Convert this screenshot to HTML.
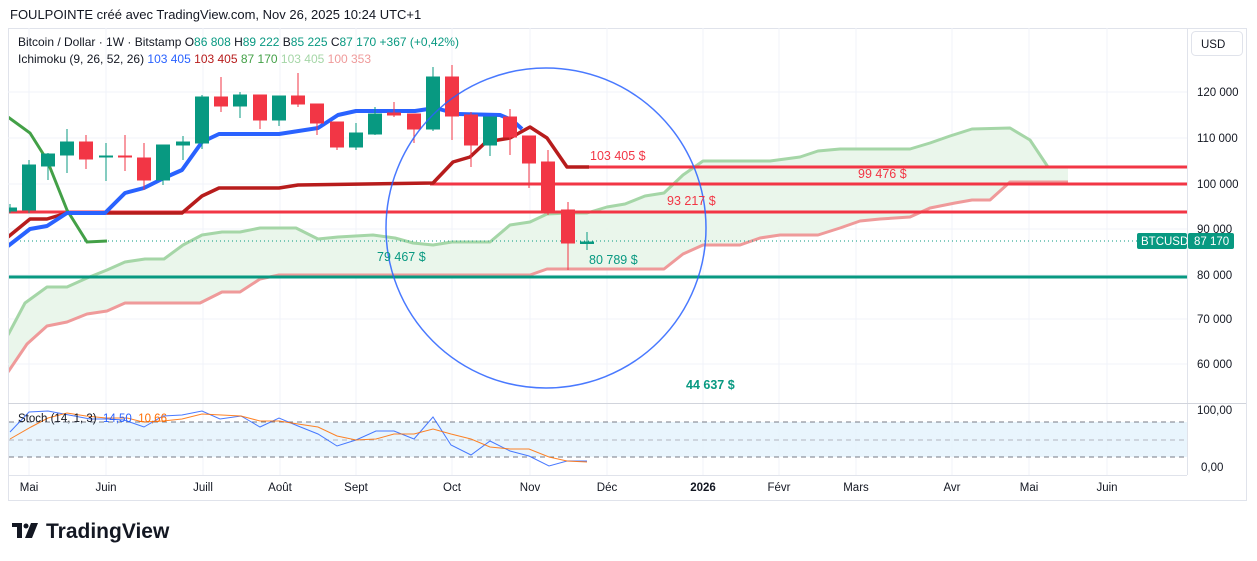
<!DOCTYPE html>
<html><head><meta charset="utf-8"><style>
html,body{margin:0;padding:0;background:#fff;width:1257px;height:561px;overflow:hidden}
svg{display:block;font-family:"Liberation Sans",sans-serif}
</style></head><body>
<svg width="1257" height="561" viewBox="0 0 1257 561" xmlns="http://www.w3.org/2000/svg">
<text x="10" y="19" font-size="13" fill="#131722">FOULPOINTE créé avec TradingView.com, Nov 26, 2025 10:24 UTC+1</text>
<rect x="8.5" y="28.5" width="1238" height="472" fill="#fff" stroke="#e0e3eb"/>
<g stroke="#f0f3fa" stroke-width="1">
<line x1="8" y1="92" x2="1187" y2="92"/><line x1="8" y1="138" x2="1187" y2="138"/><line x1="8" y1="184" x2="1187" y2="184"/><line x1="8" y1="229" x2="1187" y2="229"/><line x1="8" y1="275" x2="1187" y2="275"/><line x1="8" y1="319" x2="1187" y2="319"/><line x1="8" y1="364" x2="1187" y2="364"/>
<line x1="29" y1="28" x2="29" y2="475"/><line x1="106" y1="28" x2="106" y2="475"/><line x1="203" y1="28" x2="203" y2="475"/><line x1="280" y1="28" x2="280" y2="475"/><line x1="356" y1="28" x2="356" y2="475"/><line x1="452" y1="28" x2="452" y2="475"/><line x1="530" y1="28" x2="530" y2="475"/><line x1="607" y1="28" x2="607" y2="475"/><line x1="703" y1="28" x2="703" y2="475"/><line x1="779" y1="28" x2="779" y2="475"/><line x1="856" y1="28" x2="856" y2="475"/><line x1="952" y1="28" x2="952" y2="475"/><line x1="1029" y1="28" x2="1029" y2="475"/><line x1="1107" y1="28" x2="1107" y2="475"/>
</g>
<line x1="1187.5" y1="28" x2="1187.5" y2="475" stroke="#e0e3eb"/>
<line x1="8" y1="403.5" x2="1246" y2="403.5" stroke="#d1d4dc"/>
<line x1="8" y1="475.5" x2="1187" y2="475.5" stroke="#e0e3eb"/>
<defs><clipPath id="c"><rect x="9" y="29" width="1178" height="374"/></clipPath></defs>
<g clip-path="url(#c)">
<polygon fill="#e8f5e9" opacity="0.9" points="8,335 25,303 47,287 67,287 87,278 107,270 125,262 145,259 164,259 183,245 202,235 222,232 240,232 260,228 296,228 318,239 338,237 373,235 395,238 413,243 433,245 452,242 490,242 510,225 530,222 547,214 568,213 587,213 607,207 625,204 645,196 664,193 683,175 703,161 770,161 800,157 818,151 840,149 910,149 930,143 950,136 972,129 1010,128 1030,140 1048,167 1068,167 1068,182 1010,182 990,200 972,200 955,203 930,208 910,217 880,219 860,221 840,228 818,235 780,235 760,238 740,245 703,245 683,254 664,269 547,269 530,275 279,275 260,279 240,292 222,292 200,303 125,303 107,311 87,314 67,322 47,326 27,344 8,372"/>
<polyline fill="none" stroke="#a5d6a7" stroke-width="3" stroke-linejoin="round" points="8,335 25,303 47,287 67,287 87,278 107,270 125,262 145,259 164,259 183,245 202,235 222,232 240,232 260,228 296,228 318,239 338,237 373,235 395,238 413,243 433,245 452,242 490,242 510,225 530,222 547,214 568,213 587,213 607,207 625,204 645,196 664,193 683,175 703,161 770,161 800,157 818,151 840,149 910,149 930,143 950,136 972,129 1010,128 1030,140 1048,167 1068,167"/>
<polyline fill="none" stroke="#ef9a9a" stroke-width="3" stroke-linejoin="round" points="8,372 27,344 47,326 67,322 87,314 107,311 125,303 200,303 222,292 240,292 260,279 279,275 530,275 547,269 664,269 683,254 703,245 740,245 760,238 780,235 818,235 840,228 860,221 880,219 910,217 930,208 955,203 972,200 990,200 1010,182 1068,182"/>
<line x1="8" y1="277" x2="1187" y2="277" stroke="#089981" stroke-width="3"/>
<line x1="8" y1="212" x2="1187" y2="212" stroke="#f23645" stroke-width="3"/>
<line x1="430" y1="184" x2="1187" y2="184" stroke="#f23645" stroke-width="3"/>
<line x1="587" y1="167" x2="1187" y2="167" stroke="#f23645" stroke-width="3"/>
<line x1="8" y1="241" x2="1187" y2="241" stroke="#089981" stroke-dasharray="1,3"/>
<polyline fill="none" stroke="#43a047" stroke-width="3" points="8,117 30,133 47,160 67,210 87,242 107,241"/>
<polyline fill="none" stroke="#b71c1c" stroke-width="3.5" stroke-linejoin="round" points="8,237 30,219 47,219 67,213 182,213 202,196 219,188 279,188 298,185 433,183 453,162 470,157 486,142 510,138 530,127 547,138 567,167 589,167"/>
<polyline fill="none" stroke="#2962ff" stroke-width="4" stroke-linejoin="round" points="8,246 30,229 47,226 67,213 105,213 125,193 144,188 164,178 182,170 202,142 219,134 279,134 318,128 338,115 356,111 415,111 435,108 458,114 500,115 512,120 522,129"/>
<g stroke-width="1">
<g stroke="#089981" fill="#089981"><line x1="10" y1="204" x2="10" y2="213"/><rect x="3.5" y="208" width="13" height="3"/></g>
<g stroke="#089981" fill="#089981"><line x1="29" y1="160" x2="29" y2="213"/><rect x="22.5" y="165" width="13" height="45"/></g>
<g stroke="#089981" fill="#089981"><line x1="48" y1="153" x2="48" y2="180"/><rect x="41.5" y="154" width="13" height="12"/></g>
<g stroke="#089981" fill="#089981"><line x1="67" y1="129" x2="67" y2="173"/><rect x="60.5" y="142" width="13" height="13"/></g>
<g stroke="#f23645" fill="#f23645"><line x1="86" y1="135" x2="86" y2="169"/><rect x="79.5" y="142" width="13" height="17"/></g>
<g stroke="#089981" fill="#089981"><line x1="106" y1="143" x2="106" y2="181"/><rect x="99.5" y="156" width="13" height="1"/></g>
<g stroke="#f23645" fill="#f23645"><line x1="125" y1="135" x2="125" y2="171"/><rect x="118.5" y="156" width="13" height="1"/></g>
<g stroke="#f23645" fill="#f23645"><line x1="144" y1="143" x2="144" y2="190"/><rect x="137.5" y="158" width="13" height="22"/></g>
<g stroke="#089981" fill="#089981"><line x1="163" y1="145" x2="163" y2="185"/><rect x="156.5" y="145" width="13" height="35"/></g>
<g stroke="#089981" fill="#089981"><line x1="183" y1="136" x2="183" y2="160"/><rect x="176.5" y="142" width="13" height="3"/></g>
<g stroke="#089981" fill="#089981"><line x1="202" y1="95" x2="202" y2="149"/><rect x="195.5" y="97" width="13" height="46"/></g>
<g stroke="#f23645" fill="#f23645"><line x1="221" y1="77" x2="221" y2="112"/><rect x="214.5" y="97" width="13" height="9"/></g>
<g stroke="#089981" fill="#089981"><line x1="240" y1="92" x2="240" y2="118"/><rect x="233.5" y="95" width="13" height="11"/></g>
<g stroke="#f23645" fill="#f23645"><line x1="260" y1="95" x2="260" y2="129"/><rect x="253.5" y="95" width="13" height="25"/></g>
<g stroke="#089981" fill="#089981"><line x1="279" y1="96" x2="279" y2="126"/><rect x="272.5" y="96" width="13" height="24"/></g>
<g stroke="#f23645" fill="#f23645"><line x1="298" y1="73" x2="298" y2="107"/><rect x="291.5" y="96" width="13" height="8"/></g>
<g stroke="#f23645" fill="#f23645"><line x1="317" y1="104" x2="317" y2="135"/><rect x="310.5" y="104" width="13" height="19"/></g>
<g stroke="#f23645" fill="#f23645"><line x1="337" y1="122" x2="337" y2="150"/><rect x="330.5" y="122" width="13" height="25"/></g>
<g stroke="#089981" fill="#089981"><line x1="356" y1="123" x2="356" y2="150"/><rect x="349.5" y="133" width="13" height="14"/></g>
<g stroke="#089981" fill="#089981"><line x1="375" y1="107" x2="375" y2="135"/><rect x="368.5" y="114" width="13" height="20"/></g>
<g stroke="#f23645" fill="#f23645"><line x1="394" y1="102" x2="394" y2="117"/><rect x="387.5" y="113" width="13" height="2"/></g>
<g stroke="#f23645" fill="#f23645"><line x1="414" y1="114" x2="414" y2="143"/><rect x="407.5" y="114" width="13" height="15"/></g>
<g stroke="#089981" fill="#089981"><line x1="433" y1="67" x2="433" y2="131"/><rect x="426.5" y="77" width="13" height="52"/></g>
<g stroke="#f23645" fill="#f23645"><line x1="452" y1="65" x2="452" y2="140"/><rect x="445.5" y="77" width="13" height="39"/></g>
<g stroke="#f23645" fill="#f23645"><line x1="471" y1="112" x2="471" y2="167"/><rect x="464.5" y="115" width="13" height="30"/></g>
<g stroke="#089981" fill="#089981"><line x1="490" y1="117" x2="490" y2="156"/><rect x="483.5" y="117" width="13" height="28"/></g>
<g stroke="#f23645" fill="#f23645"><line x1="510" y1="109" x2="510" y2="155"/><rect x="503.5" y="117" width="13" height="20"/></g>
<g stroke="#f23645" fill="#f23645"><line x1="529" y1="136" x2="529" y2="188"/><rect x="522.5" y="136" width="13" height="27"/></g>
<g stroke="#f23645" fill="#f23645"><line x1="548" y1="150" x2="548" y2="215"/><rect x="541.5" y="162" width="13" height="51"/></g>
<g stroke="#f23645" fill="#f23645"><line x1="568" y1="202" x2="568" y2="270"/><rect x="561.5" y="210" width="13" height="33"/></g>
<g stroke="#089981" fill="#089981"><line x1="587" y1="232" x2="587" y2="250"/><rect x="580.5" y="242" width="13" height="1.5"/></g>
</g>
<circle cx="546" cy="228" r="160" fill="none" stroke="#2962ff" stroke-width="1.5" opacity="0.85"/>
<g font-size="12.5">
<text x="590" y="160" fill="#f23645">103 405 $</text>
<text x="858" y="178" fill="#f23645">99 476 $</text>
<text x="667" y="205" fill="#f23645">93 217 $</text>
<text x="377" y="261" fill="#089981">79 467 $</text>
<text x="589" y="264" fill="#089981">80 789 $</text>
<text x="686" y="389" fill="#089981" font-weight="bold">44 637 $</text>
</g>
</g>
<g font-size="12" xml:space="preserve">
<text x="18" y="46" fill="#131722">Bitcoin / Dollar · 1W · Bitstamp  O<tspan fill="#089981">86 808</tspan>  H<tspan fill="#089981">89 222</tspan>  B<tspan fill="#089981">85 225</tspan>  C<tspan fill="#089981">87 170</tspan>  <tspan fill="#089981">+367 (+0,42%)</tspan></text>
<text x="18" y="63" fill="#131722">Ichimoku (9, 26, 52, 26)  <tspan fill="#2962ff">103 405</tspan>  <tspan fill="#b71c1c">103 405</tspan>  <tspan fill="#43a047">87 170</tspan>  <tspan fill="#a5d6a7">103 405</tspan>  <tspan fill="#ef9a9a">100 353</tspan></text>
</g>
<rect x="1191.5" y="31.5" width="51" height="24" rx="4" fill="#fff" stroke="#e0e3eb"/>
<text x="1201" y="48" font-size="11.5" fill="#131722">USD</text>
<g font-size="11.5" fill="#131722">
<text x="1197" y="96">120 000</text><text x="1197" y="142">110 000</text><text x="1197" y="188">100 000</text><text x="1197" y="233">90 000</text><text x="1197" y="279">80 000</text><text x="1197" y="323">70 000</text><text x="1197" y="368">60 000</text>
<text x="1197" y="414">100,00</text><text x="1201" y="471">0,00</text>
</g>
<rect x="1137" y="233" width="50" height="16" rx="2" fill="#089981"/>
<rect x="1188" y="233" width="46" height="16" rx="2" fill="#089981"/>
<text x="1141" y="245" font-size="11.5" fill="#fff">BTCUSD</text>
<text x="1194" y="245" font-size="11.5" fill="#fff">87 170</text>
<rect x="9" y="422" width="1178" height="35" fill="#e3f2fd" opacity="0.8"/>
<g stroke="#787b86" stroke-dasharray="5,4"><line x1="9" y1="422" x2="1187" y2="422"/><line x1="9" y1="457" x2="1187" y2="457"/></g>
<line x1="9" y1="440" x2="1187" y2="440" stroke="#b2b5be" stroke-dasharray="5,4"/>
<polyline fill="none" stroke="#2962ff" stroke-width="1" opacity="0.85" points="10,432 29,412 48,411 69,415 90,419 108,419 124,420 144,427 163,416 182,415 202,411 220,419 241,416 260,427 279,418 298,426 318,434 337,446 356,440 376,431 394,431 414,439 433,417 451,445 471,455 490,441 510,451 529,456 549,466 567,461 587,461"/>
<polyline fill="none" stroke="#ff6d00" stroke-width="1" opacity="0.85" points="10,439 31,427 48,418 67,413 86,416 106,418 127,418 143,422 163,421 182,419 202,414 241,416 260,421 279,421 298,424 318,427 337,436 356,440 376,439 394,434 414,434 433,429 451,434 471,439 490,447 510,449 529,449 549,457 567,461 587,462"/>
<text x="18" y="422" font-size="11.5" fill="#131722" xml:space="preserve">Stoch (14, 1, 3)  <tspan fill="#2962ff">14,50</tspan>  <tspan fill="#ff6d00">10,66</tspan></text>
<g font-size="11.5" fill="#131722" text-anchor="middle">
<text x="29" y="491">Mai</text><text x="106" y="491">Juin</text><text x="203" y="491">Juill</text><text x="280" y="491">Août</text><text x="356" y="491">Sept</text><text x="452" y="491">Oct</text><text x="530" y="491">Nov</text><text x="607" y="491">Déc</text><text x="703" y="491" font-weight="bold">2026</text><text x="779" y="491">Févr</text><text x="856" y="491">Mars</text><text x="952" y="491">Avr</text><text x="1029" y="491">Mai</text><text x="1107" y="491">Juin</text>
</g>
<g fill="#131722">
<rect x="12" y="523" width="10" height="4"/><rect x="17" y="523" width="5" height="15"/>
<circle cx="26" cy="526" r="2.5"/><polygon points="31,523 38,523 32,538 25,538"/>
<text x="46" y="538" font-size="21" font-weight="bold">TradingView</text>
</g>
</svg>
</body></html>
